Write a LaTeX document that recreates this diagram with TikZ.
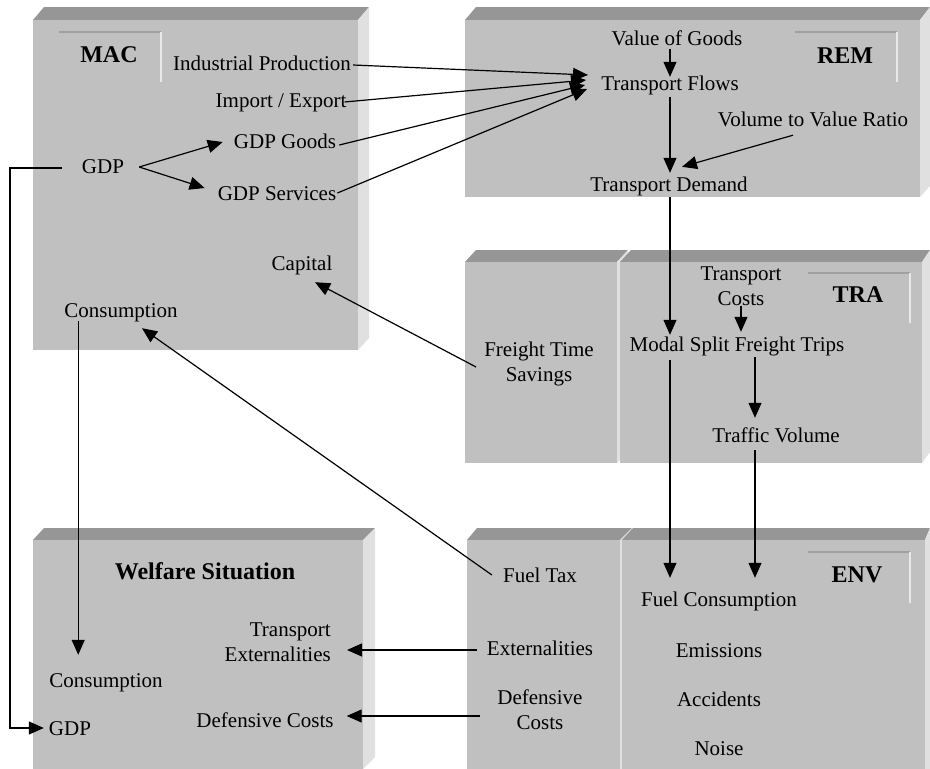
\documentclass[tikz,border=0pt]{standalone}
\usepackage{fontspec}
\setmainfont{Liberation Serif}
\usetikzlibrary{arrows.meta,calc}
\definecolor{frontc}{HTML}{C0C0C0}
\definecolor{topc}{HTML}{969696}
\definecolor{sidec}{HTML}{E0E0E0}
\definecolor{tabdark}{HTML}{A0A0A0}
\definecolor{tablight}{HTML}{E8E8E8}
\begin{document}
\begin{tikzpicture}[x=1pt,y=-1pt,
  front/.style={fill=frontc},
  topface/.style={fill=topc},
  sideface/.style={fill=sidec},
  txt/.style={inner sep=0pt, font=\fontsize{21}{25}\selectfont, text height=14pt, text depth=4pt},
  mtxt/.style={inner sep=0pt, font=\fontsize{21}{25}\selectfont, align=center},
  lbl/.style={inner sep=0pt, font=\fontsize{24}{28}\selectfont\bfseries},
  arr/.style={line width=1.2pt, -{Triangle[length=15pt,width=13pt]}},
  tabtop/.style={draw=tabdark, line width=1.2pt},
  tabside/.style={draw=tablight, line width=1.5pt}]
\useasboundingbox[fill=white] (0,0) rectangle (930,769);

% ---------- boxes ----------
% MAC
\fill[topface] (33,20) -- (44,7) -- (369,7) -- (358,20) -- cycle;
\fill[sideface] (358,20) -- (369,7) -- (369,338) -- (358,350) -- cycle;
\fill[front] (33,20) rectangle (358,350);
\draw[tabtop] (59,32) -- (161,32);
\draw[tabside] (161,32) -- (161,82);
% REM
\fill[topface] (465,20) -- (476,7) -- (930,7) -- (920,20) -- cycle;
\fill[sideface] (920,20) -- (930,7) -- (930,186) -- (920,197) -- cycle;
\fill[front] (465,20) rectangle (920,197);
\draw[tabtop] (795,32) -- (897,32);
\draw[tabside] (897,32) -- (897,82);
% Freight time savings
\fill[topface] (465,262) -- (476,250) -- (628,250) -- (617,262) -- cycle;
\fill[sideface] (617,262) -- (628,250) -- (628,451) -- (617,463) -- cycle;
\fill[front] (465,262) rectangle (617,463);
% TRA
\fill[topface] (620,262) -- (631,250) -- (930,250) -- (922,262) -- cycle;
\fill[sideface] (922,262) -- (930,250) -- (930,452) -- (922,463) -- cycle;
\fill[front] (620,262) rectangle (922,463);
\draw[tabtop] (808,273) -- (910,273);
\draw[tabside] (910,273) -- (910,323);
% Welfare
\fill[topface] (33,540) -- (44,528) -- (375,528) -- (363,540) -- cycle;
\fill[sideface] (363,540) -- (375,528) -- (375,757) -- (363,769) -- cycle;
\fill[front] (33,540) rectangle (363,769);
% Fuel tax box
\fill[topface] (467,540) -- (477,528) -- (632,528) -- (620,540) -- cycle;
\fill[sideface] (620,540) -- (632,528) -- (632,769) -- (620,769) -- cycle;
\fill[front] (467,540) rectangle (620,769);
% ENV
\fill[topface] (622,540) -- (633,528) -- (930,528) -- (925,540) -- cycle;
\fill[sideface] (925,540) -- (930,528) -- (930,769) -- (925,769) -- cycle;
\fill[front] (622,540) rectangle (925,769);
\draw[tabtop] (808,552) -- (910,552);
\draw[tabside] (910,552) -- (910,603);

% ---------- labels ----------
\node[lbl] (lmac) at (109,55) {MAC};
\node[lbl] (lrem) at (845,56) {REM};
\node[lbl] (ltra) at (858,295) {TRA};
\node[lbl] (lenv) at (857,575) {ENV};
\node[lbl] (lwel) at (205,571) {Welfare Situation};

% ---------- MAC ----------
\node[txt] (ip) at (262,65) {Industrial Production};
\node[txt] (ie) at (281,102) {Import / Export};
\node[txt] (gg) at (285,143) {GDP Goods};
\node[txt] (gdp) at (103,168) {GDP};
\node[txt] (gs) at (277,195) {GDP Services};
\node[txt] (cap) at (302,265) {Capital};
\node[txt] (mcons) at (121,312) {Consumption};

% ---------- REM ----------
\node[txt] (vg) at (677,40) {Value of Goods};
\node[txt] (tf) at (670,85) {Transport Flows};
\node[txt] (vvr) at (813,121) {Volume to Value Ratio};
\node[txt] (td) at (669,186) {Transport Demand};

% ---------- TRA ----------
\node[mtxt] (tc) at (741,286) {Transport\\Costs};
\node[txt] (ms) at (737,346) {Modal Split Freight Trips};
\node[txt] (tv) at (776,437) {Traffic Volume};
\node[mtxt] (fts) at (539,364) {Freight Time\\Savings};

% ---------- ENV ----------
\node[txt] (fc) at (719,601) {Fuel Consumption};
\node[txt] (emi) at (719,652) {Emissions};
\node[txt] (acc) at (719,701) {Accidents};
\node[txt] (noi) at (719,750) {Noise};
\node[txt] (ft) at (540,577) {Fuel Tax};
\node[txt] (ext) at (540,650) {Externalities};
\node[mtxt] (fdc) at (540,710) {Defensive\\Costs};

% ---------- Welfare ----------
\node[mtxt, align=right, anchor=east] (te) at (331,642) {Transport\\Externalities};
\node[txt] (wcons) at (106,682) {Consumption};
\node[txt] (wgdp) at (70,730) {GDP};
\node[txt] (wdc) at (265,722) {Defensive Costs};

% ---------- connectors ----------
\coordinate (lft) at (10,168);
\draw[arr] ($(ip.east)+(2,0)$) -- ($(tf.west)+(-13,-10)$);
\draw[arr] ($(ie.east)+(-2,0)$) -- ($(tf.west)+(-15,-5)$);
\draw[arr] ($(gg.east)+(3,2)$) -- ($(tf.west)+(-16,0)$);
\draw[arr] ($(gs.east)+(1,-2)$) -- ($(tf.west)+(-14,4)$);
\draw[arr] ($(gdp.east)+(15,-1)$) -- ($(gg.west)+(-11,-1)$);
\draw[arr] ($(gdp.east)+(15,-1)$) -- ($(gs.west)+(-13,-7)$);
\draw[arr] ($(gdp.west)+(-20,0)$) -- (lft |- gdp.west) |- ($(wgdp.west)+(-5,-2)$);
\draw[arr] ($(mcons.south west)+(14,0)$) -- ($(mcons.south west |- wcons.north)+(14,-18)$);

\draw[arr] (tf.north |- vg.south) -- ($(tf.north)+(0,1)$);
\draw[arr] ($(tf.south)+(0,3)$) -- ($(tf.south |- td.north)+(0,-4)$);
\draw[arr] ($(vvr.south)+(-20,5)$) -- ($(td.north)+(13,-10)$);
\draw[arr] ($(td.south)+(1,2)$) -- ($(td.south |- ms.north)+(1,-2)$);

\draw[arr] (tc.south) -- ($(tc.south |- ms.north)+(0,-5)$);
\draw[arr] ($(ms.south)+(18,2)$) -- ($(ms.south |- tv.north)+(18,-10)$);
\draw[arr] ($(ms.south)+(-67,5)$) -- ($(ms.south |- fc.north)+(-67,-14)$);
\draw[arr] ($(tv.south)+(-21,4)$) -- ($(tv.south |- fc.north)+(-21,-14)$);
\draw[arr] ($(fts.west)+(-8,3)$) -- ($(cap.south)+(13,8)$);
\draw[arr] ($(ft.west)+(-11,-2)$) -- ($(mcons.south)+(21,7)$);
\draw[arr] ($(ext.west)+(-10,0)$) -- ($(te.east |- ext.west)+(16,0)$);
\draw[arr] ($(fdc.west)+(-17,6)$) -- ($(wdc.east |- fdc.west)+(13,6)$);
\end{tikzpicture}
\end{document}
